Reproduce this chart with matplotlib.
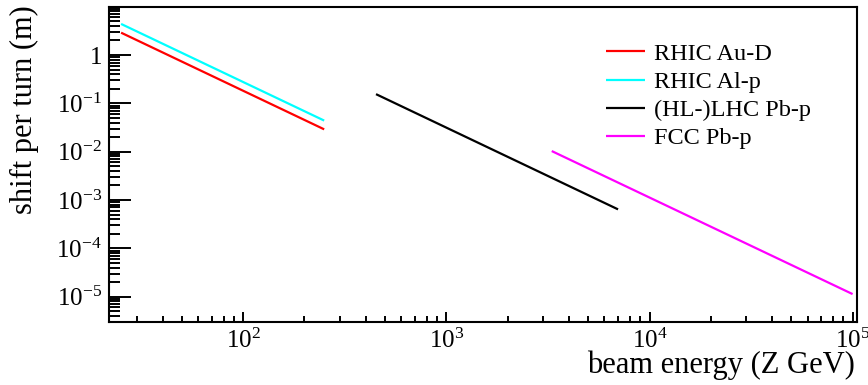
import numpy as np
import matplotlib
matplotlib.use("Agg")
import matplotlib.pyplot as plt
from matplotlib.ticker import FixedLocator, FixedFormatter, LogLocator, NullFormatter

plt.rcParams['font.family'] = ['Liberation Serif', 'DejaVu Serif']
plt.rcParams['mathtext.fontset'] = 'custom'
plt.rcParams['mathtext.rm'] = 'Liberation Serif'
plt.rcParams['mathtext.it'] = 'Liberation Serif:italic'
plt.rcParams['mathtext.bf'] = 'Liberation Serif:bold'

# beam energy range (Z GeV) and shift per turn (m) at the ends of each machine's range
rhic_au_d_E = [25, 250]
rhic_au_d_shift = [2.9, 0.029]
rhic_al_p_E = [25, 250]
rhic_al_p_shift = [4.4, 0.044]
lhc_pb_p_E = [450, 7000]
lhc_pb_p_shift = [0.155, 6.4e-4]
fcc_pb_p_E = [3300, 100000]
fcc_pb_p_shift = [0.0103, 1.13e-5]

series = [
    ("RHIC Au-D", rhic_au_d_E, rhic_au_d_shift, "#ff0000"),
    ("RHIC Al-p", rhic_al_p_E, rhic_al_p_shift, "#00ffff"),
    ("(HL-)LHC Pb-p", lhc_pb_p_E, lhc_pb_p_shift, "#000000"),
    ("FCC Pb-p", fcc_pb_p_E, fcc_pb_p_shift, "#ff00ff"),
]

x_ticks = [1e2, 1e3, 1e4, 1e5]
x_tick_labels = [r'$10^{2}$', r'$10^{3}$', r'$10^{4}$', r'$10^{5}$']
y_ticks = [1e-5, 1e-4, 1e-3, 1e-2, 1e-1, 1]
y_tick_labels = [r'$10^{-5}$', r'$10^{-4}$', r'$10^{-3}$', r'$10^{-2}$', r'$10^{-1}$', '1']

fig = plt.figure(figsize=(8.68, 3.85), dpi=100)
ax = fig.add_axes([0.1256, 0.1644, 0.8617, 0.8182])

for label, E, shift, color in series:
    ax.plot(E, shift, color=color, lw=1.6, label=label, solid_capstyle='butt')

ax.set_xscale('log')
ax.set_yscale('log')
ax.set_xlim(21.8, 1.051e5)
ax.set_ylim(3.03e-6, 10)

ax.xaxis.set_major_locator(FixedLocator(x_ticks))
ax.xaxis.set_major_formatter(FixedFormatter(x_tick_labels))
ax.yaxis.set_major_locator(FixedLocator(y_ticks))
ax.yaxis.set_major_formatter(FixedFormatter(y_tick_labels))
ax.xaxis.set_minor_locator(LogLocator(base=10, subs=np.arange(2, 10), numticks=20))
ax.yaxis.set_minor_locator(LogLocator(base=10, subs=np.arange(2, 10), numticks=20))
ax.xaxis.set_minor_formatter(NullFormatter())
ax.yaxis.set_minor_formatter(NullFormatter())

ax.tick_params(axis='both', which='both', direction='in', top=False, right=False,
               colors='black', width=1.4, labelsize=18)
ax.tick_params(axis='y', which='major', length=16, pad=5)
ax.tick_params(axis='y', which='minor', length=8)
ax.tick_params(axis='x', which='major', length=7.5, pad=5)
ax.tick_params(axis='x', which='minor', length=4)
for spine in ax.spines.values():
    spine.set_linewidth(1.5)

fig.text(855 / 868, 1 - 373 / 385, "beam energy (Z GeV)", ha='right', va='baseline', fontsize=22)
fig.text(24 / 868, 1 - 5 / 385, "shift per turn (m)", ha='center', va='top', rotation=90, fontsize=22)

ax.legend(loc='upper left', bbox_to_anchor=(0.664, 0.885), frameon=False, fontsize=17.5,
          handlelength=1.6, handletextpad=0.4, labelspacing=0.25, borderpad=0, borderaxespad=0)

fig.savefig("out.png", dpi=100)
